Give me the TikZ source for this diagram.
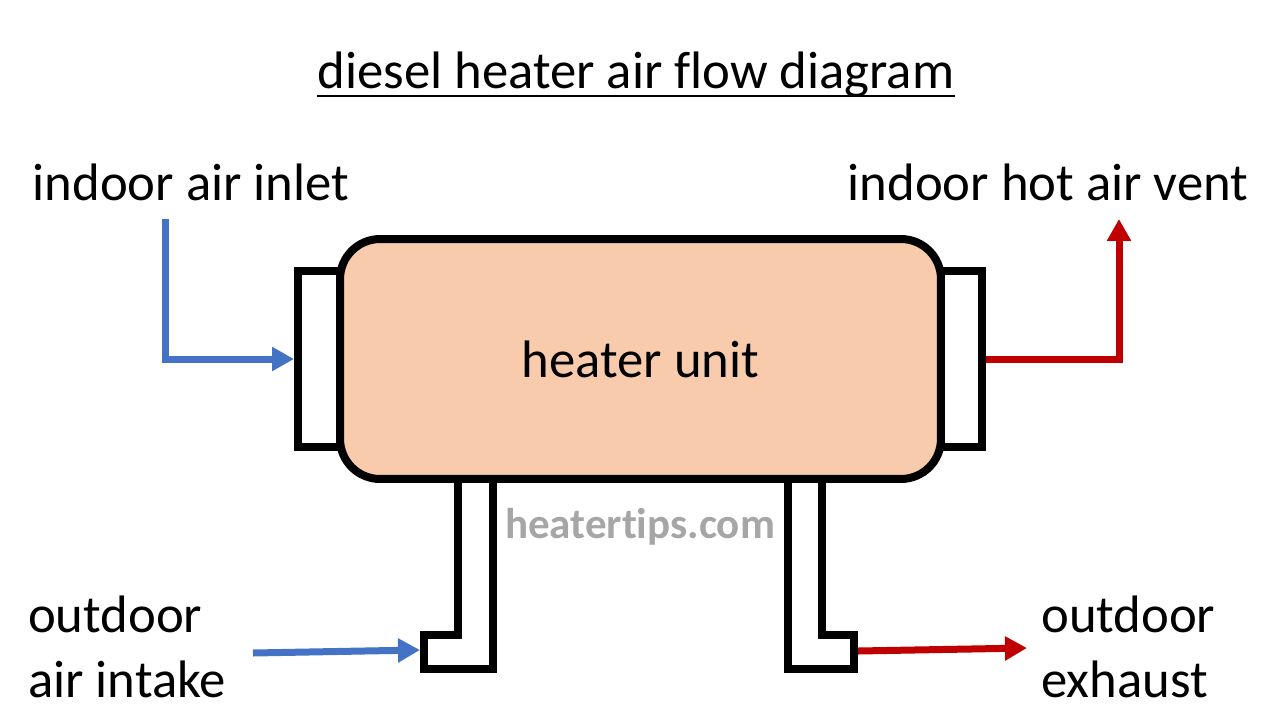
\documentclass[tikz,border=0pt]{standalone}
\usepackage{fontspec}
\setmainfont{Carlito}[Ligatures=NoCommon]
\usepackage{xcolor}
\usetikzlibrary{positioning, arrows.meta}

\definecolor{flowblue}{HTML}{4472C4}
\definecolor{flowred}{HTML}{C00000}
\definecolor{unitfill}{HTML}{F8CBAD}
\definecolor{markgray}{HTML}{A6A6A6}

\begin{document}
\begin{tikzpicture}[
    x=0.02cm, y=-0.02cm,
    unit/.style={rectangle, draw, line width=0.16cm, rounded corners=0.8cm, fill=unitfill, minimum width=12.02cm, minimum height=4.8cm, font=\fontsize{30}{37}\selectfont},
    flange/.style={rectangle, draw, line width=0.16cm, fill=white, minimum width=1.04cm, minimum height=3.54cm},
    pipe/.style={draw, line width=0.16cm, fill=white},
    label/.style={font=\fontsize{30}{37}\selectfont, align=left},
    cold/.style={flowblue, line width=0.14cm, -{Triangle[length=0.44cm, width=0.46cm]}},
    hot/.style={flowred, line width=0.14cm, -{Triangle[length=0.44cm, width=0.46cm]}}
]
\useasboundingbox (0,0) rectangle (1280,720);

\node[font=\fontsize{30}{37}\selectfont, inner xsep=0pt] (title) at (636,75) {diesel heater air flow diagram};
\draw[line width=0.04cm] ([yshift=-0.15cm]title.base west) -- ([yshift=-0.15cm]title.base east);

% pipes and flanges behind the unit
\draw[pipe] (458,470) -- (458,635) -- (424,635) -- (424,669) -- (492.5,669) -- (492.5,470);
\draw[pipe] (788,470) -- (788,669) -- (854,669) -- (854,635) -- (822,635) -- (822,470);
\node[flange] (lflange) at (324,359) {};
\node[flange] (rflange) at (956,359) {};

\node[unit] (heater) at (640.5,359) {heater unit};

\node[font=\fontsize{24.5}{29}\bfseries\selectfont, text=markgray] (mark) at (640,527) {heatertips.com};

\node[label] (inlet) at (191,182) {indoor air inlet};
\node[label] (vent) at (1048,182) {indoor hot air vent};
\node[label, anchor=west] (intake) at (22,647) {outdoor\\air intake};
\node[label, anchor=west] (exhaust) at (1035,647) {outdoor\\exhaust};

\coordinate (inletend) at (165,219);
\coordinate (ventend) at (1119,219);
\coordinate (intakestart) at (253,653);
\coordinate (intakefoot) at (420,650);
\coordinate (exhaustfoot) at (858,651);
\coordinate (exhaustend) at (1027,648);

\draw[cold] (inletend) |- (lflange.west);
\draw[hot] (rflange.east) -| (ventend);
\draw[cold] (intakestart) -- (intakefoot);
\draw[hot] (exhaustfoot) -- (exhaustend);

\end{tikzpicture}
\end{document}
